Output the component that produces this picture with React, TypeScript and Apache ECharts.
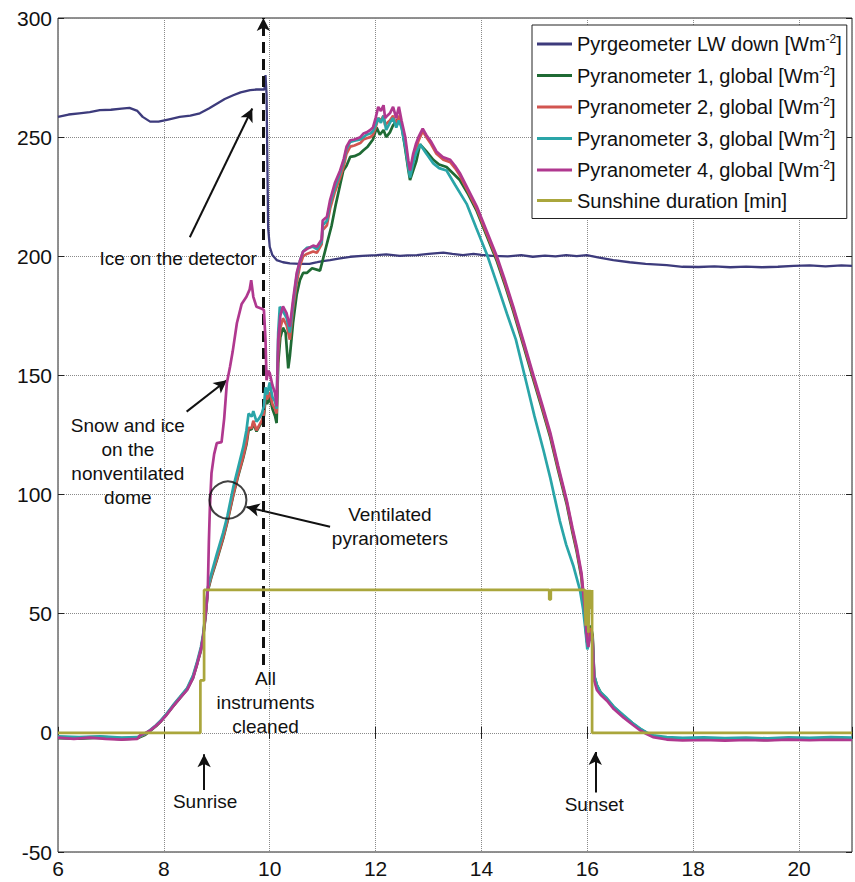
import React, { useEffect, useRef } from "react";
import * as echarts from "echarts";

// ---------------- data (hours, value) ----------------
const seriesNames = [
  "Pyrgeometer LW down [Wm-2]",
  "Pyranometer 1, global [Wm-2]",
  "Pyranometer 2, global [Wm-2]",
  "Pyranometer 3, global [Wm-2]",
  "Pyranometer 4, global [Wm-2]",
  "Sunshine duration [min]",
];
const seriesColors = ["#3d3b7c", "#1f6a34", "#d25550", "#2aa5a8", "#b0388f", "#aaa63c"];

const xMin = 6, xMax = 21, xStep = 2;
const yMin = -50, yMax = 300, yStep = 50;

const pyrgeometerLW = [
  [6.0, 258.5], [6.2, 259.5], [6.4, 260], [6.6, 260.5], [6.79, 261.3], [7.0, 261.5], [7.2, 262], [7.35, 262.3],
  [7.5, 261], [7.6, 258.5], [7.74, 256.5], [7.9, 256.5], [8.1, 257.5], [8.3, 258.5], [8.5, 259], [8.68, 260],
  [8.85, 262], [9.0, 264], [9.15, 266], [9.31, 267.6], [9.45, 268.8], [9.63, 269.7], [9.75, 270], [9.9, 270],
  [9.92, 276], [9.94, 268], [9.97, 212], [10.0, 204], [10.05, 200.5], [10.13, 198.4], [10.25, 197.5], [10.38, 197],
  [10.57, 196.8], [10.75, 196.8], [10.9, 197.5], [11.0, 198], [11.14, 198.4], [11.3, 199], [11.52, 199.8], [11.75, 200.2],
  [12.02, 200.5], [12.2, 200.8], [12.46, 200.2], [12.6, 200.4], [12.78, 200.5], [13.0, 201], [13.28, 201.5], [13.45, 201],
  [13.65, 200.5], [13.85, 201], [14.0, 200.6], [14.2, 200.2], [14.5, 200], [14.75, 200.5], [14.97, 199.8], [15.2, 200.3],
  [15.4, 200], [15.6, 200.5], [15.8, 200.1], [15.99, 200.5], [16.2, 199.5], [16.49, 198.4], [16.8, 197.5], [17.1, 196.8],
  [17.5, 196.3], [17.8, 195.6], [18.1, 195.5], [18.4, 195.8], [18.7, 195.4], [19.0, 195.7], [19.3, 195.4], [19.6, 195.6],
  [19.9, 196], [20.2, 196.2], [20.5, 195.8], [20.8, 196.2], [21.0, 196],
];

const pyranometer1 = [
  [6, -2.2], [6.4, -2.4], [6.8, -2], [7.2, -2.6], [7.5, -2.3], [7.65, -0.8], [7.74, 0.8], [7.85, 2.8], [7.95, 5],
  [8.05, 7.6], [8.17, 11], [8.3, 14.5], [8.44, 18.2], [8.55, 23], [8.63, 29], [8.7, 34.5], [8.74, 40], [8.79, 49], [8.83, 59.5],
  [8.9, 65.5], [9.0, 72.5], [9.12, 81.5], [9.2, 88.5], [9.31, 99.5], [9.4, 107.5], [9.5, 115.5], [9.56, 121], [9.6, 127],
  [9.66, 127.5], [9.69, 130], [9.75, 126.5], [9.8, 128.5], [9.85, 130.5], [9.89, 133], [9.92, 140], [9.95, 138], [10.0, 141],
  [10.05, 136], [10.1, 133], [10.13, 130], [10.16, 155], [10.2, 166], [10.25, 170], [10.3, 168], [10.35, 153], [10.38, 158],
  [10.44, 172], [10.51, 184], [10.57, 190], [10.63, 193], [10.7, 193], [10.8, 195], [10.95, 194], [11.02, 200], [11.1, 207],
  [11.17, 213], [11.25, 222], [11.33, 230], [11.39, 236], [11.45, 238], [11.52, 241.7], [11.6, 242], [11.7, 243], [11.77, 244.5],
  [11.85, 246], [11.95, 249], [12.02, 254], [12.08, 251], [12.15, 253], [12.2, 250], [12.27, 252], [12.33, 255], [12.4, 257],
  [12.44, 258], [12.49, 255], [12.56, 245], [12.62, 236], [12.65, 232], [12.71, 236], [12.77, 240], [12.84, 247], [12.96, 244],
  [13.09, 240.5], [13.2, 238.5], [13.34, 237.5], [13.5, 234], [13.59, 232], [13.75, 226], [13.91, 219], [14.1, 208.5],
  [14.29, 198], [14.45, 187.5], [14.6, 177], [14.8, 162], [14.97, 149], [15.15, 135.5], [15.3, 124], [15.45, 110], [15.61, 96],
  [15.72, 84], [15.8, 76], [15.89, 65], [15.92, 57], [15.96, 47], [15.99, 39], [16.02, 41], [16.06, 45], [16.1, 41], [16.13, 24],
  [16.18, 20], [16.25, 17], [16.37, 14.2], [16.5, 10.8], [16.68, 7.2], [16.85, 4], [17.0, 1.5], [17.12, 0], [17.24, -1.4],
  [17.5, -2.4], [17.8, -2.8], [18.2, -2.6], [18.6, -2.9], [19.0, -2.7], [19.4, -3], [19.8, -2.6], [20.2, -2.8], [20.6, -2.5], [21, -2.7],
];

const pyranometer2 = [
  [6, -1.8], [6.4, -2], [6.8, -1.7], [7.2, -2.2], [7.5, -2], [7.65, -0.5], [7.74, 1], [7.85, 3], [7.95, 5.2], [8.05, 7.8],
  [8.17, 11.2], [8.3, 14.8], [8.44, 18.5], [8.55, 23.5], [8.63, 29.5], [8.7, 35], [8.74, 40.5], [8.79, 50], [8.83, 60],
  [8.9, 66], [9.0, 73], [9.12, 82], [9.2, 89], [9.31, 100], [9.4, 108], [9.5, 116], [9.56, 122], [9.6, 128], [9.66, 128],
  [9.69, 131], [9.75, 127], [9.8, 129], [9.85, 131], [9.89, 134], [9.92, 142], [9.95, 140], [10.0, 143], [10.05, 138],
  [10.1, 136], [10.13, 134], [10.16, 160], [10.2, 170], [10.25, 174], [10.32, 171], [10.38, 165], [10.44, 178], [10.51, 189],
  [10.57, 196], [10.63, 200], [10.7, 201], [10.82, 202], [10.89, 201.5], [10.98, 205], [11.0, 211], [11.08, 213], [11.14, 220],
  [11.23, 227], [11.33, 233], [11.4, 238], [11.45, 243], [11.52, 246], [11.6, 246.5], [11.71, 247.5], [11.77, 249], [11.83, 249.5],
  [11.9, 250], [11.95, 251], [12.0, 254], [12.05, 258], [12.1, 257], [12.15, 259], [12.18, 255], [12.22, 256], [12.27, 257],
  [12.33, 259], [12.39, 255], [12.44, 259], [12.49, 255], [12.56, 248], [12.62, 238], [12.65, 234], [12.71, 241], [12.76, 245],
  [12.81, 248.5], [12.89, 252.5], [12.96, 250], [13.05, 247], [13.15, 243], [13.28, 240.5], [13.41, 239.5], [13.5, 237],
  [13.59, 234], [13.75, 227], [13.91, 220], [14.1, 209.5], [14.29, 199], [14.45, 188.5], [14.6, 178], [14.8, 163], [14.97, 150],
  [15.15, 136.5], [15.3, 125], [15.45, 111], [15.61, 97], [15.72, 85], [15.8, 77], [15.89, 66], [15.92, 58], [15.96, 48],
  [15.99, 38], [16.02, 40], [16.06, 44], [16.1, 40], [16.13, 23], [16.18, 19], [16.25, 16.5], [16.37, 14], [16.5, 10.5],
  [16.68, 7], [16.85, 4], [17.0, 1.5], [17.12, 0], [17.24, -1.3], [17.5, -2.2], [17.8, -2.6], [18.2, -2.4], [18.6, -2.7],
  [19.0, -2.5], [19.4, -2.8], [19.8, -2.4], [20.2, -2.6], [20.6, -2.3], [21, -2.5],
];

const pyranometer3 = [
  [6, -1.5], [6.4, -1.8], [6.8, -1.5], [7.2, -2], [7.5, -1.8], [7.65, -0.3], [7.74, 1.2], [7.85, 3.2], [7.95, 5.4], [8.05, 8],
  [8.17, 11.5], [8.3, 15], [8.44, 18.8], [8.55, 24], [8.63, 30], [8.7, 36], [8.74, 41], [8.79, 51], [8.83, 61],
  [8.9, 67], [9.0, 75], [9.12, 84], [9.2, 91], [9.31, 103], [9.4, 111], [9.5, 120], [9.56, 127], [9.6, 134], [9.66, 132.7],
  [9.69, 135], [9.75, 130.6], [9.8, 132], [9.85, 134], [9.89, 137], [9.92, 145], [9.95, 142], [10.0, 147], [10.05, 141],
  [10.1, 139], [10.13, 136], [10.16, 168], [10.19, 178.8], [10.25, 177], [10.32, 174], [10.38, 168], [10.44, 180], [10.51, 192],
  [10.57, 198], [10.63, 202], [10.7, 203.5], [10.82, 204], [10.89, 203], [10.98, 206], [11.0, 213], [11.08, 215], [11.14, 222],
  [11.23, 229], [11.33, 235], [11.4, 240], [11.45, 245], [11.52, 248], [11.6, 248.5], [11.71, 249], [11.77, 250], [11.83, 251],
  [11.9, 251.5], [11.95, 252.5], [12.0, 255], [12.05, 258], [12.1, 256], [12.15, 259], [12.2, 253], [12.27, 256], [12.33, 258],
  [12.39, 254], [12.44, 257], [12.49, 254], [12.56, 246], [12.62, 237], [12.65, 233], [12.71, 239], [12.76, 243], [12.84, 247],
  [12.96, 243], [13.09, 239], [13.2, 237], [13.34, 236], [13.5, 230], [13.72, 222], [13.9, 212], [14.1, 201], [14.3, 188],
  [14.48, 176], [14.65, 165], [14.85, 146.8], [15.0, 133], [15.17, 118.7], [15.3, 107], [15.48, 89], [15.6, 79], [15.74, 69.8],
  [15.86, 60], [15.92, 52], [15.97, 42], [16.0, 35], [16.03, 38], [16.07, 42], [16.1, 39], [16.13, 24], [16.18, 20], [16.25, 17],
  [16.37, 14.5], [16.5, 11], [16.68, 7.5], [16.85, 4.2], [17.0, 1.8], [17.12, 0.2], [17.24, -1], [17.5, -1.8], [17.8, -2.1],
  [18.2, -1.9], [18.6, -2.2], [19.0, -2], [19.4, -2.3], [19.8, -1.9], [20.2, -2.1], [20.6, -1.8], [21, -2],
];

const pyranometer4 = [
  [6.0, -2], [6.3, -2.5], [6.6, -2], [6.9, -2.5], [7.2, -2.8], [7.5, -2.5], [7.55, -1], [7.65, 0], [7.74, 1], [7.85, 3],
  [7.95, 5], [8.05, 7.5], [8.17, 11], [8.3, 14.5], [8.44, 18], [8.55, 23], [8.63, 29], [8.7, 35], [8.74, 40], [8.79, 50], [8.83, 60],
  [8.85, 80], [8.87, 95], [8.9, 109], [8.95, 117], [9.0, 121.6], [9.09, 122], [9.14, 132], [9.19, 146.8], [9.25, 153.6], [9.3, 160],
  [9.38, 172], [9.47, 180], [9.56, 183], [9.62, 186], [9.65, 190], [9.69, 183], [9.75, 178.8], [9.85, 178], [9.89, 177.4],
  [9.92, 165], [9.94, 148], [9.97, 152], [10.0, 151], [10.05, 146], [10.1, 142.6], [10.13, 137], [10.16, 165], [10.2, 175],
  [10.25, 179], [10.32, 176], [10.38, 170.5], [10.44, 181.6], [10.51, 193], [10.57, 198], [10.63, 202], [10.7, 203],
  [10.82, 204.5], [10.89, 204], [10.98, 207], [11.0, 215], [11.08, 216.6], [11.14, 223.6], [11.23, 230.7], [11.33, 236],
  [11.4, 241], [11.45, 246], [11.52, 248.7], [11.6, 249], [11.71, 250], [11.77, 251.5], [11.83, 252], [11.9, 253], [11.95, 254],
  [12.0, 258], [12.05, 262.7], [12.1, 261], [12.15, 263.4], [12.18, 258], [12.22, 259], [12.27, 260], [12.33, 262.7], [12.39, 258],
  [12.44, 262.7], [12.49, 257], [12.56, 250], [12.62, 240], [12.65, 236], [12.71, 243], [12.76, 247], [12.81, 250], [12.89, 253.6],
  [12.96, 250.8], [13.05, 248], [13.15, 244], [13.28, 241.5], [13.41, 240.5], [13.5, 238], [13.59, 235], [13.75, 228], [13.91, 221],
  [14.1, 210.5], [14.29, 200], [14.45, 189.5], [14.6, 179], [14.8, 164], [14.97, 151], [15.15, 137.5], [15.3, 126], [15.45, 112],
  [15.61, 97.7], [15.72, 86], [15.8, 78], [15.89, 67], [15.92, 60], [15.96, 50], [15.99, 40], [16.02, 36], [16.06, 42], [16.1, 38],
  [16.13, 22], [16.18, 18], [16.25, 16], [16.37, 13.5], [16.5, 10], [16.68, 6.5], [16.85, 3.5], [17.0, 1], [17.12, -0.5],
  [17.24, -1.8], [17.5, -2.8], [17.8, -3.2], [18.2, -3], [18.6, -3.3], [19.0, -3], [19.4, -3.2], [19.8, -2.8], [20.2, -3.1],
  [20.6, -2.9], [21, -3],
];

const sunshineDuration = [
  [6, 0], [8.69, 0], [8.69, 22], [8.76, 22], [8.76, 60], [15.28, 60], [15.28, 56], [15.31, 56], [15.31, 60], [15.95, 60],
  [15.97, 45], [15.99, 60], [16.02, 42], [16.04, 60], [16.07, 52], [16.09, 60], [16.09, 0], [21, 0],
];

// annotation texts and anchor points (data coordinates)
const annotationTexts = [
  { text: "Ice on the detector", at: [8.27, 199] },
  { text: "Snow and ice\non the\nnonventilated\ndome", at: [7.32, 114] },
  { text: "Ventilated\npyranometers", at: [12.27, 86.6] },
  { text: "All\ninstruments\ncleaned", at: [9.92, 12.6] },
  { text: "Sunrise", at: [8.78, -29] },
  { text: "Sunset", at: [16.13, -30] },
];
const annotationArrows = [
  { from: [8.49, 208], to: [9.67, 262] },
  { from: [8.43, 134.8], to: [9.19, 148] },
  { from: [11.14, 86.5], to: [9.56, 94.8] },
  { from: [8.76, -24], to: [8.76, -9] },
  { from: [16.15, -25], to: [16.15, -8] },
];
const cleaningArrow = { from: [9.88, 28.5], to: [9.88, 300] };
const ventilatedCircle = [9.21, 97.7];

const FONT = '"Liberation Sans", Arial, Helvetica, sans-serif';

function legendLabel(name: string) {
  const i = name.indexOf("[Wm-2]");
  if (i < 0) return `{t|${name}}`;
  return `{t|${name.slice(0, i)}[Wm}{s|-2}{t|]}`;
}

export default function App() {
  const ref = useRef<HTMLDivElement>(null);
  useEffect(() => {
    if (!ref.current) return;
    const chart = echarts.init(ref.current, null, { renderer: "svg" });
    const dataSets = [pyrgeometerLW, pyranometer1, pyranometer2, pyranometer3, pyranometer4, sunshineDuration];
    const lineSeries = dataSets.map((d, i) => ({
      name: seriesNames[i],
      type: "line",
      data: d,
      showSymbol: false,
      symbol: "none",
      color: seriesColors[i],
      lineStyle: { color: seriesColors[i], width: i === 0 ? 2.3 : 2.7 },
      z: 2 + i,
    }));
    const option = {
      animation: false,
      backgroundColor: "#fff",
      textStyle: { fontFamily: FONT },
      grid: {
        left: 58, right: 3, top: 18, bottom: 30,
        show: true, borderColor: "#222", borderWidth: 1, backgroundColor: "#fff",
      },
      legend: {
        orient: "vertical",
        left: 532, top: 25,
        data: seriesNames,
        icon: "rect",
        padding: [8, 5, 8, 5],
        itemWidth: 35, itemHeight: 3, itemGap: 10.5,
        backgroundColor: "#fff",
        borderColor: "#222", borderWidth: 1, borderRadius: 0,
        formatter: legendLabel,
        textStyle: {
          fontFamily: FONT, color: "#111",
          rich: {
            t: { fontSize: 20, lineHeight: 22, fontFamily: FONT, color: "#111" },
            s: { fontSize: 12, lineHeight: 12, verticalAlign: "top", fontFamily: FONT, color: "#111" },
          },
        },
      },
      xAxis: [
        {
          type: "value", min: xMin, max: xMax, interval: xStep, position: "bottom",
          axisLine: { show: false },
          axisTick: { show: true, inside: true, length: 6, lineStyle: { color: "#222" } },
          axisLabel: {
            color: "#111", fontSize: 21, fontFamily: FONT, margin: 6,
            formatter: (v: number) => (v === xMax ? "" : String(v)),
          },
          splitLine: { show: true, lineStyle: { color: "#8a8a8a", type: "dotted", width: 1 } },
        },
        {
          type: "value", min: xMin, max: xMax, interval: xStep, position: "top",
          axisLine: { show: false },
          axisTick: { show: true, inside: true, length: 6, lineStyle: { color: "#222" } },
          axisLabel: { show: false },
          splitLine: { show: false },
        },
      ],
      yAxis: [
        {
          type: "value", min: yMin, max: yMax, interval: yStep, position: "left",
          axisLine: { show: false },
          axisTick: { show: true, inside: true, length: 6, lineStyle: { color: "#222" } },
          axisLabel: { color: "#111", fontSize: 21, fontFamily: FONT, margin: 6 },
          splitLine: { show: true, lineStyle: { color: "#8a8a8a", type: "dotted", width: 1 } },
        },
        {
          type: "value", min: yMin, max: yMax, interval: yStep, position: "right",
          axisLine: { show: false },
          axisTick: { show: true, inside: true, length: 6, lineStyle: { color: "#222" } },
          axisLabel: { show: false },
          splitLine: { show: false },
        },
      ],
      series: [
        ...lineSeries,
        {
          name: "arrows",
          type: "line",
          data: [],
          silent: true,
          z: 20,
          markLine: {
            silent: true,
            animation: false,
            symbol: ["none", "arrow"],
            symbolSize: [10, 13],
            label: { show: false },
            lineStyle: { color: "#111", width: 2, type: "solid" },
            data: [
              ...annotationArrows.map((a) => [{ coord: a.from }, { coord: a.to }]),
              [
                { coord: cleaningArrow.from, lineStyle: { color: "#111", width: 3, type: [11, 6] } },
                { coord: cleaningArrow.to },
              ],
            ],
          },
        },
        {
          name: "circle",
          type: "scatter",
          silent: true,
          z: 21,
          data: [ventilatedCircle],
          symbol: "circle",
          symbolSize: 37,
          itemStyle: { color: "rgba(0,0,0,0)", borderColor: "#111", borderWidth: 2 },
        },
        {
          name: "labels",
          type: "scatter",
          silent: true,
          z: 22,
          symbolSize: 1,
          itemStyle: { color: "#fff", opacity: 1 },
          data: annotationTexts.map((a) => ({ value: a.at, name: a.text })),
          label: {
            show: true,
            position: "inside",
            formatter: (p: any) => p.name,
            color: "#111",
            opacity: 1,
            textBorderWidth: 0,
            fontSize: 19,
            lineHeight: 24,
            fontFamily: FONT,
            align: "center",
            verticalAlign: "middle",
          },
        },
      ],
    };
    chart.setOption(option as any);
    return () => chart.dispose();
  }, []);
  return (
    <div
      ref={ref}
      style={{ position: "fixed", left: 0, top: 0, width: 855, height: 882, background: "#fff" }}
    />
  );
}
